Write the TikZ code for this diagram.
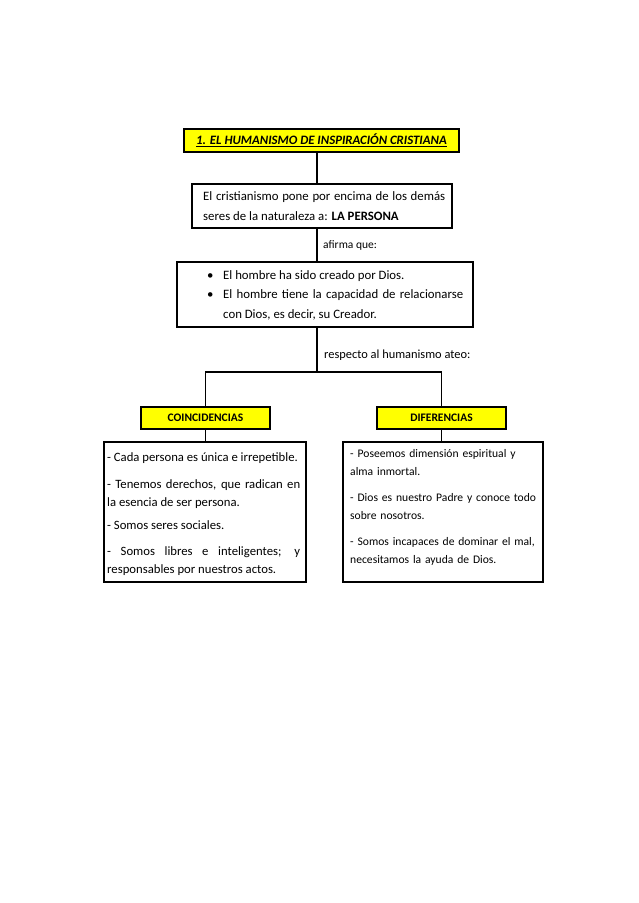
\documentclass[tikz,border=0pt]{standalone}
\usepackage{fontspec}
\setmainfont{Carlito}[HyphenChar=None]
\usetikzlibrary{positioning,calc}
\definecolor{hlyellow}{HTML}{FFFF00}
\tikzset{
  ybox/.style={draw=black, line width=1.4pt, fill=hlyellow, inner sep=0pt, align=center},
  wbox/.style={draw=black, line width=1.4pt, fill=white, inner sep=0pt},
  txt/.style={inner sep=0pt, anchor=north west},
  conn/.style={draw=black, line width=1.8pt},
  lbl/.style={inner sep=0pt, anchor=west}
}
\newcommand{\bulitem}{\hangindent=16pt\hangafter=1\noindent\makebox[16pt][l]{\textbullet}}
\begin{document}
\begin{tikzpicture}[x=1pt,y=-1pt]
\useasboundingbox (0,0) rectangle (638,903);
\fill[white] (0,0) rectangle (638,903);

% title
\node[ybox, minimum width=275pt, minimum height=23pt, font=\fontsize{12.8}{14}\selectfont\bfseries\itshape] (title) at (321.5,140.5) {\underline{1. EL HUMANISMO DE INSPIRACIÓN CRISTIANA}};

% box 2
\node[wbox, minimum width=260pt, minimum height=44pt] (b2) at (322,206) {};
\node[txt, text width=242pt, align=justify, font=\fontsize{12.8}{20}\selectfont] (b2t) at (203,191) {El cristianismo pone por encima de los demás seres de la naturaleza a: \textbf{LA PERSONA}\par};

\node[lbl, font=\fontsize{11.5}{13}\selectfont] (afirma) at (323,245) {afirma que:};

% box 3
\node[wbox, minimum width=296pt, minimum height=65pt] (b3) at (325,294.5) {};
\node[txt, text width=256pt, align=justify, font=\fontsize{12.8}{19.3}\selectfont] (b3t) at (207,270.5) {%
\bulitem El hombre ha sido creado por Dios.\par
\bulitem El hombre tiene la capacidad de relacionarse con Dios, es decir, su Creador.\par};

\node[lbl, font=\fontsize{12.4}{14}\selectfont] (respecto) at (324,355) {respecto al humanismo ateo:};

% second level
\coordinate (j) at (317,372);
\node[ybox, minimum width=129pt, minimum height=22pt, font=\fontsize{11.5}{13}\selectfont\bfseries] (coinc) at (205.5,418) {COINCIDENCIAS};
\node[ybox, minimum width=129pt, minimum height=22pt, font=\fontsize{11.5}{13}\selectfont\bfseries] (dif) at (441.5,418) {DIFERENCIAS};

\node[wbox, minimum width=202pt, minimum height=140pt] (left) at (205,512) {};
\node[wbox, minimum width=200pt, minimum height=140pt] (right) at (443,512) {};

\node[txt, text width=193pt, align=justify, font=\fontsize{12.7}{18}\selectfont] (lt) at (107,452) {%
- Cada persona es única e irrepetible.\par\vspace{9pt}
- Tenemos derechos, que radican en\linebreak la esencia de ser persona.\par\vspace{5pt}
- Somos seres sociales.\par\vspace{8pt}
- Somos libres e inteligentes; y\linebreak responsables por nuestros actos.\par};

\node[txt, text width=188pt, align=left, font=\fontsize{11.6}{18}\selectfont] (rt) at (350,449) {%
- Poseemos dimensión espiritual y\\ alma inmortal.\par\vspace{8pt}
- Dios es nuestro Padre y conoce todo\\ sobre nosotros.\par\vspace{8pt}
- Somos incapaces de dominar el mal,\\ necesitamos la ayuda de Dios.\par};

% connectors
\draw[conn] (title.south -| j) -- (b2.north -| j);
\draw[conn] (b2.south -| j) -- (b3.north -| j);
\draw[conn] (b3.south -| j) -- (j);
\draw[conn] (coinc.north) |- (j) -| (dif.north);
\draw[conn] (coinc.south) -- (coinc.south |- left.north);
\draw[conn] (dif.south) -- (dif.south |- right.north);
\end{tikzpicture}
\end{document}
